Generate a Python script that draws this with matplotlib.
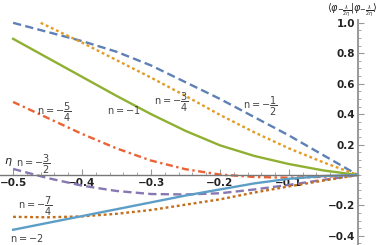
import numpy as np
import matplotlib.pyplot as plt
from matplotlib.ticker import FixedLocator

# values
eta = [-0.5, -0.45, -0.4, -0.35, -0.3, -0.25, -0.2, -0.15, -0.1, -0.05, 0.0]

n_half = [1.0, 0.94, 0.88, 0.81, 0.72, 0.61, 0.50, 0.38, 0.26, 0.13, 0.0]
eta_34 = [-0.46, -0.4, -0.35, -0.3, -0.25, -0.2, -0.15, -0.1, -0.05, 0.0]
n_34 = [1.0, 0.87, 0.755, 0.64, 0.52, 0.395, 0.28, 0.175, 0.083, 0.0]
n_1 = [0.895, 0.77, 0.645, 0.52, 0.40, 0.29, 0.195, 0.125, 0.072, 0.03, 0.0]
n_54 = [0.48, 0.375, 0.27, 0.175, 0.095, 0.038, 0.003, -0.013, -0.018, -0.012, 0.0]
n_32 = [0.04, -0.02, -0.07, -0.105, -0.125, -0.128, -0.12, -0.095, -0.065, -0.032, 0.0]
n_74 = [-0.275, -0.278, -0.272, -0.255, -0.23, -0.195, -0.16, -0.115, -0.075, -0.037, 0.0]
n_2 = [-0.36, -0.315, -0.27, -0.225, -0.18, -0.135, -0.095, -0.055, -0.025, -0.007, 0.0]

xticks = [-0.5, -0.4, -0.3, -0.2, -0.1]
yticks = [-0.4, -0.2, 0.2, 0.4, 0.6, 0.8, 1.0]

fig = plt.figure(figsize=(3.82, 2.45), dpi=100)
ax = fig.add_axes([0, 0, 1, 1])

lw = 1.7
ax.plot(eta, n_half, color='#5E81B5', lw=lw, ls=(0, (3.5, 1.8)))
ax.plot(eta_34, n_34, color='#E19C24', lw=lw, ls=(0, (1.2, 1.2)))
ax.plot(eta, n_1, color='#8FB032', lw=lw)
ax.plot(eta, n_54, color='#EB6235', lw=lw, ls=(0, (3, 1.5, 1, 1.5)))
ax.plot(eta, n_32, color='#8778B3', lw=lw, ls=(0, (3.5, 1.8)))
ax.plot(eta, n_74, color='#C56E1A', lw=lw, ls=(0, (1.2, 1.2)))
ax.plot(eta, n_2, color='#5D9EC7', lw=lw)

ax.set_xlim(-0.519, 0.035)
ax.set_ylim(-0.46, 1.15)

for s in ['top', 'right']:
    ax.spines[s].set_visible(False)
ax.spines['left'].set_position(('data', 0))
ax.spines['bottom'].set_position(('data', 0))
ax.spines['left'].set_bounds(-0.46, 1.02)
ax.spines['bottom'].set_bounds(-0.519, 0)
ax.spines['left'].set_color('#999999')
ax.spines['bottom'].set_color('#777777')
ax.spines['left'].set_linewidth(1.4)
ax.spines['bottom'].set_linewidth(1.0)

ax.set_xticks(xticks)
ax.set_yticks(yticks)
ax.xaxis.set_minor_locator(FixedLocator(np.arange(-0.5, 0.0, 0.02)))
ax.yaxis.set_minor_locator(FixedLocator(np.arange(-0.45, 1.0, 0.05)))
ax.set_xticklabels(['\u2212%.1f' % abs(v) for v in xticks])
ax.set_yticklabels([('\u2212%.1f' % abs(v)) if v < 0 else '%.1f' % v for v in yticks])
ax.tick_params(which='both', direction='in', color='#999999')
ax.tick_params(which='major', length=4, width=0.8, labelsize=7.5, pad=2)
ax.tick_params(which='minor', length=2.2, width=0.6)
for t in ax.get_xticklabels() + ax.get_yticklabels():
    t.set_fontweight('bold')
    t.set_color('#222222')

tc = '#444444'
fs = 7
ax.text(-0.167, 0.447, r'$\mathrm{n}=-\dfrac{1}{2}$', fontsize=fs, color=tc, va='center')
ax.text(-0.296, 0.474, r'$\mathrm{n}=-\dfrac{3}{4}$', fontsize=fs, color=tc, va='center')
ax.text(-0.364, 0.428, r'$\mathrm{n}=-1$', fontsize=fs, color=tc, va='center')
ax.text(-0.465, 0.414, r'$\mathrm{n}=-\dfrac{5}{4}$', fontsize=fs, color=tc, va='center')
ax.text(-0.496, 0.072, r'$\mathrm{n}=-\dfrac{3}{2}$', fontsize=fs, color=tc, va='center')
ax.text(-0.493, -0.21, r'$\mathrm{n}=-\dfrac{7}{4}$', fontsize=fs, color=tc, va='center')
ax.text(-0.504, -0.414, r'$\mathrm{n}=-2$', fontsize=fs, color=tc, va='center')

ax.text(-0.507, 0.085, r'$\eta$', fontsize=8, color='#222222', ha='center', va='center')
ax.text(-0.008, 1.085, r'$\langle\varphi_{-\frac{\lambda}{2\eta}}|\varphi_{-\frac{\lambda}{2\eta}}\rangle$',
        fontsize=7, color='#222222', ha='center', va='center')

fig.savefig('out.png', dpi=100)
